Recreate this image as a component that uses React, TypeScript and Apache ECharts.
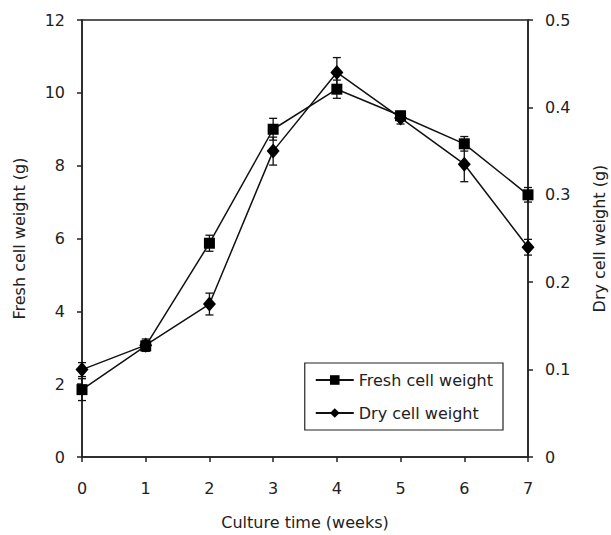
import React, { useEffect, useRef } from "react";
import * as echarts from "echarts";

const weeks = [0, 1, 2, 3, 4, 5, 6, 7];
const freshWeight = [1.85, 3.05, 5.87, 9.0, 10.1, 9.37, 8.6, 7.2];
const freshErr = [0.3, 0.15, 0.22, 0.3, 0.25, 0.12, 0.2, 0.2];
const dryWeight = [0.1, 0.128, 0.175, 0.35, 0.44, 0.388, 0.335, 0.24];
const dryErr = [0.008, 0.007, 0.0125, 0.016, 0.017, 0.007, 0.02, 0.009];

const FONT = "DejaVu Sans";
const FS = 16;

function errorSeries(values: number[], errs: number[], yAxisIndex: number) {
  return {
    type: "custom",
    yAxisIndex,
    silent: true,
    z: 1,
    data: weeks.map((w, i) => [w, values[i] - errs[i], values[i] + errs[i]]),
    renderItem: (params: any, api: any) => {
      const x = api.value(0);
      const lo = api.coord([x, api.value(1)]);
      const hi = api.coord([x, api.value(2)]);
      const hw = 4;
      const style = { stroke: "#111", lineWidth: 1.3 };
      return {
        type: "group",
        children: [
          { type: "line", shape: { x1: lo[0], y1: lo[1], x2: hi[0], y2: hi[1] }, style },
          { type: "line", shape: { x1: lo[0] - hw, y1: lo[1], x2: lo[0] + hw, y2: lo[1] }, style },
          { type: "line", shape: { x1: hi[0] - hw, y1: hi[1], x2: hi[0] + hw, y2: hi[1] }, style },
        ],
      };
    },
  };
}

export default function App() {
  const ref = useRef<HTMLDivElement>(null);
  useEffect(() => {
    if (!ref.current) return;
    document.body.style.margin = "0";
    const chart = echarts.init(ref.current, null, { renderer: "svg" });
    const axisLabel = { color: "#222", fontSize: FS, fontFamily: FONT };
    const axisLine = { show: true, lineStyle: { color: "#222", width: 1.5 } };
    const axisTick = { show: true, length: 5, lineStyle: { color: "#222", width: 1.5 } };
    const nameTextStyle = { fontSize: FS, color: "#222", fontFamily: FONT };
    chart.setOption({
      animation: false,
      backgroundColor: "#fff",
      textStyle: { fontFamily: FONT },
      grid: {
        left: 82,
        right: 83,
        top: 20,
        bottom: 78,
        containLabel: false,
        outerBoundsMode: "none",
        show: true,
        borderColor: "#222",
        borderWidth: 1.5,
        backgroundColor: "transparent",
      },
      legend: {
        right: 108,
        top: 363,
        orient: "vertical",
        data: ["Fresh cell weight", "Dry cell weight"],
        itemWidth: 38,
        itemHeight: 12,
        itemGap: 17,
        padding: [9, 10, 9, 10],
        borderColor: "#222",
        borderWidth: 1.2,
        backgroundColor: "#fff",
        textStyle: { fontSize: FS, color: "#222", fontFamily: FONT },
      },
      xAxis: {
        type: "value",
        min: 0,
        max: 7,
        interval: 1,
        name: "Culture time (weeks)",
        nameLocation: "middle",
        nameGap: 57,
        nameTextStyle,
        axisLine,
        axisTick,
        axisLabel: { ...axisLabel, margin: 23 },
        splitLine: { show: false },
      },
      yAxis: [
        {
          type: "value",
          min: 0,
          max: 12,
          interval: 2,
          name: "Fresh cell weight (g)",
          nameLocation: "middle",
          nameGap: 55,
          nameRotate: 90,
          nameTextStyle,
          axisLine,
          axisTick,
          axisLabel: { ...axisLabel, margin: 17 },
          splitLine: { show: false },
        },
        {
          type: "value",
          position: "right",
          min: 0,
          max: 0.5,
          interval: 0.1,
          name: "Dry cell weight (g)",
          nameLocation: "middle",
          nameGap: 63,
          nameRotate: 90,
          nameTextStyle,
          axisLine,
          axisTick,
          axisLabel: { ...axisLabel, margin: 17 },
          splitLine: { show: false },
        },
      ],
      series: [
        errorSeries(freshWeight, freshErr, 0),
        errorSeries(dryWeight, dryErr, 1),
        {
          name: "Fresh cell weight",
          type: "line",
          yAxisIndex: 0,
          data: weeks.map((w, i) => [w, freshWeight[i]]),
          symbol: "rect",
          symbolSize: 11,
          lineStyle: { color: "#111", width: 1.5 },
          itemStyle: { color: "#000" },
          z: 3,
        },
        {
          name: "Dry cell weight",
          type: "line",
          yAxisIndex: 1,
          data: weeks.map((w, i) => [w, dryWeight[i]]),
          symbol: "diamond",
          symbolSize: [13, 15],
          lineStyle: { color: "#111", width: 1.5 },
          itemStyle: { color: "#000" },
          z: 3,
        },
      ],
    });
    return () => chart.dispose();
  }, []);
  return <div ref={ref} style={{ width: 611, height: 535 }} />;
}
